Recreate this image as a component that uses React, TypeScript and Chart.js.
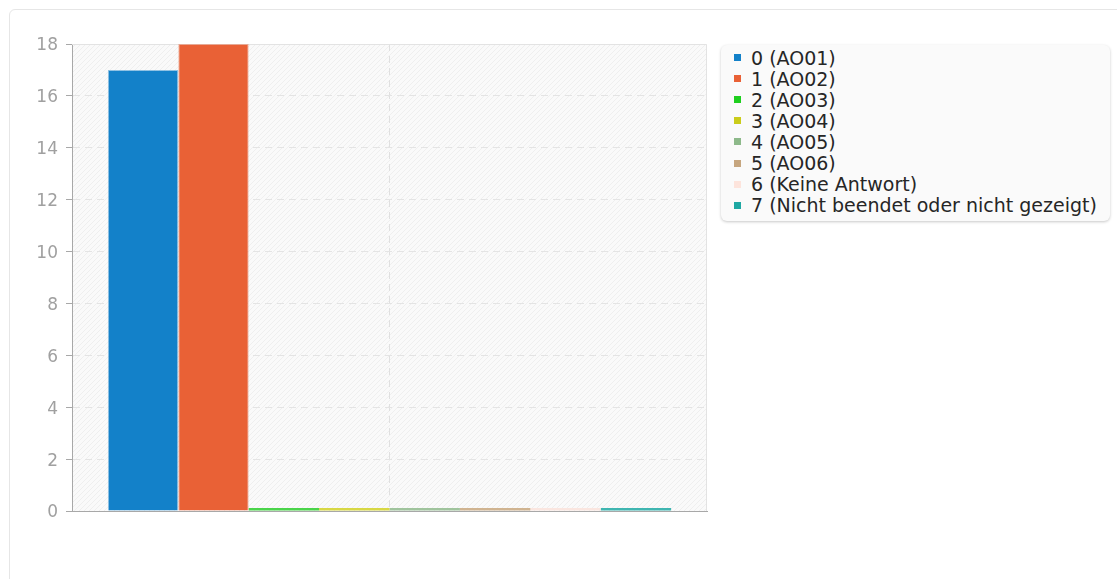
import React, { useEffect, useRef } from "react";
import { Chart, registerables } from "chart.js";

Chart.register(...registerables);

const categories: string[] = [""];
const seriesLabels: string[] = [
  "0 (AO01)",
  "1 (AO02)",
  "2 (AO03)",
  "3 (AO04)",
  "4 (AO05)",
  "5 (AO06)",
  "6 (Keine Antwort)",
  "7 (Nicht beendet oder nicht gezeigt)",
];
const seriesValues: number[] = [17, 18, 0, 0, 0, 0, 0, 0];
const seriesColors: string[] = [
  "#1381c9",
  "#e96136",
  "#4ad44a",
  "#d8d844",
  "#a0c49d",
  "#d0b491",
  "#fae6e0",
  "#3fb6b1",
];
const legendColors: string[] = [
  "#1381c9",
  "#e96136",
  "#1fcf1f",
  "#cacc1b",
  "#8db98a",
  "#c6a67f",
  "#fde4dc",
  "#1fa8a3",
];
const seriesBorders: string[] = [
  "rgba(19,129,201,0.45)",
  "rgba(233,97,54,0.45)",
  "rgba(31,207,31,0.45)",
  "rgba(202,204,27,0.45)",
  "rgba(141,185,138,0.45)",
  "rgba(198,166,127,0.45)",
  "rgba(253,228,220,0.45)",
  "rgba(31,168,163,0.45)",
];
const yTicks = { min: 0, max: 18, step: 2 };

const FONT = "'DejaVu Sans', sans-serif";

export default function App() {
  const ref = useRef<HTMLCanvasElement | null>(null);

  useEffect(() => {
    const canvas = ref.current;
    if (!canvas) return;

    const pc = document.createElement("canvas");
    pc.width = 5;
    pc.height = 5;
    const px = pc.getContext("2d")!;
    px.fillStyle = "#fafafa";
    px.fillRect(0, 0, 5, 5);
    px.strokeStyle = "#efefef";
    px.lineWidth = 1;
    px.beginPath();
    px.moveTo(0, 5);
    px.lineTo(5, 0);
    px.moveTo(-1, 1);
    px.lineTo(1, -1);
    px.moveTo(4, 6);
    px.lineTo(6, 4);
    px.stroke();

    const bgPlugin = {
      id: "plotBg",
      beforeDraw(chart: any) {
        const { ctx, chartArea } = chart;
        const pat = ctx.createPattern(pc, "repeat");
        ctx.save();
        ctx.fillStyle = pat || "#fafafa";
        ctx.fillRect(
          chartArea.left,
          chartArea.top,
          chartArea.right - chartArea.left,
          chartArea.bottom - chartArea.top
        );
        ctx.restore();
      },
      beforeDatasetsDraw(chart: any) {
        const { ctx, chartArea } = chart;
        ctx.save();
        ctx.strokeStyle = "#e3e3e3";
        ctx.lineWidth = 1;
        ctx.beginPath();
        ctx.moveTo(chartArea.left, chartArea.top + 0.5);
        ctx.lineTo(chartArea.right - 0.5, chartArea.top + 0.5);
        ctx.lineTo(chartArea.right - 0.5, chartArea.bottom);
        ctx.stroke();
        ctx.restore();
      },
    };

    const chart = new Chart(canvas, {
      type: "bar",
      data: {
        labels: categories,
        datasets: seriesLabels.map((label, i) => ({
          label,
          data: [seriesValues[i]],
          backgroundColor: seriesColors[i],
          borderColor: seriesBorders[i],
          borderWidth: (c: any) => (c.raw === 0 ? 0 : 1),
          minBarLength: 3,
          categoryPercentage: 0.887,
          barPercentage: 1,
        })),
      },
      options: {
        animation: false,
        responsive: false,
        maintainAspectRatio: false,
        devicePixelRatio: 1,
        layout: { padding: { left: 0, top: 44, right: 8, bottom: 68 } },
        plugins: {
          legend: { display: false },
          tooltip: { enabled: false },
        },
        scales: {
          x: {
            grid: {
              offset: false,
              color: "#e0e0e0",
              drawTicks: false,
            },
            border: { color: "#a8a8a8", width: 1, dash: [7, 5] },
            ticks: { display: false },
          },
          y: {
            min: yTicks.min,
            max: yTicks.max,
            afterFit(scale: any) {
              scale.width = 72;
            },
            ticks: {
              stepSize: yTicks.step,
              color: "#a0a0a0",
              padding: 8,
              labelOffset: 2,
              font: { family: FONT, size: 17 },
            },
            grid: {
              color: "#e4e4e4",
              tickColor: "#a8a8a8",
              tickLength: 6,
              drawTicks: true,
            },
            border: { color: "#a8a8a8", width: 1, dash: [7, 5] },
          },
        },
      },
      plugins: [bgPlugin],
    } as any);

    return () => chart.destroy();
  }, []);

  return (
    <div
      style={{
        position: "fixed",
        left: 0,
        top: 0,
        width: 1117,
        height: 579,
        overflow: "hidden",
        background: "#fff",
        fontFamily: FONT,
      }}
    >
      <div
        style={{
          position: "absolute",
          left: 9,
          top: 9,
          width: 1200,
          height: 700,
          border: "1px solid #e6e6e6",
          borderRadius: 6,
          boxSizing: "border-box",
        }}
      />
      <canvas
        ref={ref}
        width={715}
        height={579}
        style={{ position: "absolute", left: 0, top: 0, width: 715, height: 579 }}
      />
      <div
        style={{
          position: "absolute",
          left: 721,
          top: 45,
          width: 389,
          height: 176,
          boxSizing: "border-box",
          background: "#fafafa",
          borderRadius: 6,
          boxShadow: "0 1px 3px rgba(0,0,0,0.22)",
          paddingTop: 2,
          paddingLeft: 13,
        }}
      >
        {seriesLabels.map((label, i) => (
          <div
            key={label}
            style={{
              display: "flex",
              alignItems: "center",
              height: 21.1,
              fontSize: 19,
              color: "#262626",
              whiteSpace: "nowrap",
            }}
          >
            <span
              style={{
                display: "inline-block",
                width: 7,
                height: 7,
                background: legendColors[i],
                marginRight: 10,
                flex: "none",
              }}
            />
            <span>{label}</span>
          </div>
        ))}
      </div>
    </div>
  );
}
